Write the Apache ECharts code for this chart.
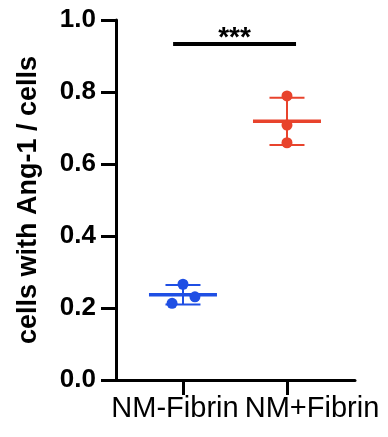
<!DOCTYPE html>
<html>
<head>
<meta charset="utf-8">
<script src="https://cdn.jsdelivr.net/npm/echarts@6/dist/echarts.min.js"></script>
<style>
html,body{margin:0;padding:0;background:#fff;}
#chart{width:388px;height:437px;}
</style>
</head>
<body>
<div id="chart"></div>
<script>
// ---- data ----
var categories = ['NM-Fibrin', 'NM+Fibrin'];
var groupX = [1, 2];
var blueX = [1.0, 1.115, 0.895];
var blueY = [0.266, 0.231, 0.213];
var redX = [2.0, 2.0, 2.0];
var redY = [0.789, 0.708, 0.659];
var yTicks = [0, 0.2, 0.4, 0.6, 0.8, 1.0];
var sigX = [0.905, 2.087];
var sigY = [0.933];
var sigLabel = ['***'];
var yTitle = 'cells with Ang-1 / cells';

var BLUE = '#1f4fe4';
var RED = '#e8432c';
var FONT = '"Liberation Sans", Arial, Helvetica, sans-serif';

function stats(arr) {
  var m = arr.reduce(function (a, b) { return a + b; }, 0) / arr.length;
  var v = arr.reduce(function (a, b) { return a + (b - m) * (b - m); }, 0) / (arr.length - 1);
  return { mean: m, sd: Math.sqrt(v) };
}
var blueS = stats(blueY), redS = stats(redY);
var summary = [
  [groupX[0], blueS.mean, blueS.mean - blueS.sd, blueS.mean + blueS.sd, 0],
  [groupX[1], redS.mean, redS.mean - redS.sd, redS.mean + redS.sd, 1]
];
var colors = [BLUE, RED];

function zip(xs, ys) { return xs.map(function (x, i) { return [x, ys[i]]; }); }

var chart = echarts.init(document.getElementById('chart'), null, { renderer: 'canvas' });
chart.setOption({
  animation: false,
  backgroundColor: '#fff',
  grid: { left: 116, right: 33, top: 20, bottom: 57 },
  xAxis: {
    type: 'value',
    min: 0.356, max: 2.654,
    splitLine: { show: false },
    axisLine: { lineStyle: { color: '#000', width: 3 } },
    axisTick: { show: true, customValues: groupX, length: 15, lineStyle: { color: '#000', width: 3 } },
    axisLabel: {
      customValues: groupX,
      margin: 14,
      formatter: function (v) {
        var i = groupX.indexOf(Math.round(v));
        return i === 0 ? '{a|' + categories[0] + '}' : '{b|' + categories[1] + '}';
      },
      rich: {
        a: { fontFamily: FONT, fontSize: 29, color: '#000', padding: [0, 16, 0, 0] },
        b: { fontFamily: FONT, fontSize: 29, color: '#000', padding: [0, 0, 0, 50] }
      }
    }
  },
  yAxis: {
    type: 'value',
    min: 0, max: 1, interval: 0.2,
    splitLine: { show: false },
    axisLine: { show: true, lineStyle: { color: '#000', width: 3 } },
    axisTick: { show: true, length: 15, lineStyle: { color: '#000', width: 3 } },
    axisLabel: {
      margin: 20,
      fontFamily: FONT, fontSize: 26, fontWeight: 'bold', color: '#000',
      formatter: function (v) { return v.toFixed(1); }
    },
    name: yTitle,
    nameLocation: 'middle',
    nameRotate: 90,
    nameGap: 74,
    nameTextStyle: { fontFamily: FONT, fontSize: 27, fontWeight: 'bold', color: '#000' }
  },
  series: [
    {
      type: 'custom',
      data: summary,
      z: 3,
      renderItem: function (params, api) {
        var x = api.value(0), m = api.value(1), lo = api.value(2), hi = api.value(3);
        var c = colors[api.value(4)];
        var pm = api.coord([x, m]), pl = api.coord([x, lo]), ph = api.coord([x, hi]);
        var st = { stroke: c, lineWidth: 2 };
        return {
          type: 'group',
          children: [
            { type: 'line', shape: { x1: pl[0], y1: pl[1], x2: ph[0], y2: ph[1] }, style: st },
            { type: 'line', shape: { x1: pl[0] - 17.5, y1: pl[1], x2: pl[0] + 17.5, y2: pl[1] }, style: st },
            { type: 'line', shape: { x1: ph[0] - 17.5, y1: ph[1], x2: ph[0] + 17.5, y2: ph[1] }, style: st },
            { type: 'line', shape: { x1: pm[0] - 34, y1: pm[1], x2: pm[0] + 34, y2: pm[1] }, style: { stroke: c, lineWidth: 3.5 } }
          ]
        };
      }
    },
    {
      type: 'scatter', data: zip(blueX, blueY), symbolSize: 11, z: 4,
      itemStyle: { color: BLUE, opacity: 1 }
    },
    {
      type: 'scatter', data: zip(redX, redY), symbolSize: 11, z: 4,
      itemStyle: { color: RED, opacity: 1 }
    },
    {
      type: 'custom',
      data: [[sigX[0], sigX[1], sigY[0]]],
      z: 5,
      renderItem: function (params, api) {
        var p1 = api.coord([api.value(0), api.value(2)]);
        var p2 = api.coord([api.value(1), api.value(2)]);
        return {
          type: 'group',
          children: [
            { type: 'line', shape: { x1: p1[0], y1: p1[1], x2: p2[0], y2: p2[1] }, style: { stroke: '#000', lineWidth: 4 } },
            { type: 'text', style: { x: (p1[0] + p2[0]) / 2, y: p1[1] + 8, text: sigLabel[0], fill: '#000',
                font: 'bold 28px ' + FONT, textAlign: 'center', textVerticalAlign: 'bottom' } }
          ]
        };
      }
    }
  ]
});
</script>
</body>
</html>
